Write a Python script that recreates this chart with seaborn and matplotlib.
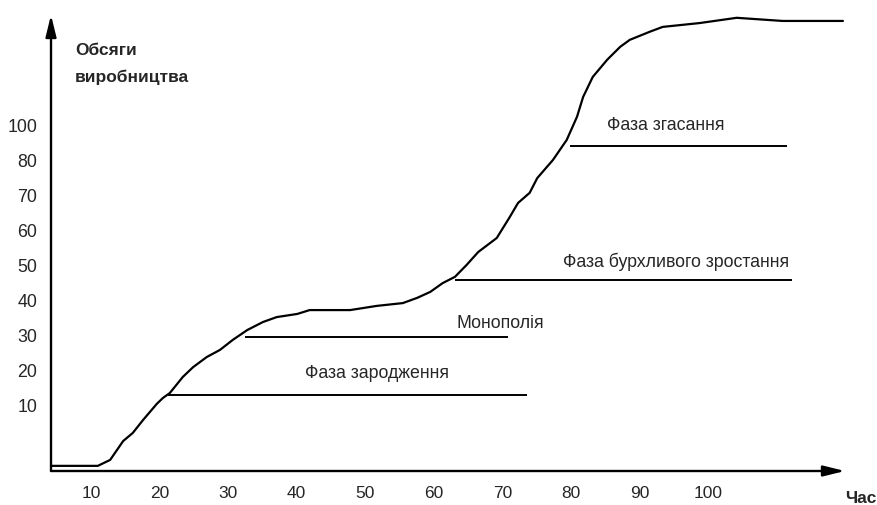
import matplotlib
matplotlib.use("Agg")
import matplotlib.pyplot as plt
import numpy as np
import pandas as pd
import seaborn as sns
from matplotlib import font_manager

# curve (time, output)
curve_x = [4.3, 11.0, 12.8, 14.7, 16.1, 17.6, 19.6, 20.5, 21.5, 23.4, 24.9, 26.9,
           28.8, 30.7, 32.8, 35.1, 37.1, 40.1, 41.9, 47.8, 51.7, 55.5, 57.6, 59.5,
           61.3, 63.1, 64.8, 66.5, 69.2, 71.1, 72.3, 74.0, 75.1, 77.4, 79.4, 80.9,
           81.8, 83.2, 85.3, 87.2, 88.6, 91.5, 93.4, 98.8, 104.2, 110.9, 119.7]
curve_y = [-7.1, -7.1, -5.4, 0.0, 2.3, 6.0, 10.6, 12.3, 13.7, 18.3, 21.1, 24.0,
           26.0, 28.9, 31.7, 34.0, 35.4, 36.3, 37.4, 37.4, 38.6, 39.4, 40.9, 42.6,
           45.1, 46.9, 50.3, 54.0, 58.0, 64.0, 68.0, 70.9, 75.1, 80.3, 86.0, 92.6,
           98.3, 104.0, 108.9, 112.6, 114.6, 116.9, 118.3, 119.4, 120.9, 120.0, 120.0]

phase_names = ["Фаза зародження", "Монополія", "Фаза бурхливого зростання", "Фаза згасання"]
phase_level = [13.1, 29.7, 46.0, 84.3]
phase_start = [21.2, 32.5, 63.1, 79.9]
phase_end = [73.6, 70.8, 112.3, 111.5]
label_x = [51.7, 69.7, 95.3, 93.9]
label_y = [18.0, 32.3, 49.7, 88.9]

x_ticks = [10, 20, 30, 40, 50, 60, 70, 80, 90, 100]
y_ticks = [10, 20, 30, 40, 50, 60, 70, 80, 90]
y_tick_labels = ["10", "20", "30", "40", "50", "60", "70", "80", "100"]

x_lim = (4.17, 120.0)
y_lim = (-8.57, 121.7)

sns.set_style("white")
installed = {f.name for f in font_manager.fontManager.ttflist}
family = "Liberation Sans" if "Liberation Sans" in installed else "DejaVu Sans"
plt.rcParams["font.family"] = [family, "DejaVu Sans"]
fs = 12.8

fig = plt.figure(figsize=(8.77, 5.05), dpi=100)
ax = fig.add_axes([51 / 877, 34 / 505, 794 / 877, 456 / 505])

df = pd.DataFrame({"t": curve_x, "v": curve_y})
sns.lineplot(data=df, x="t", y="v", color="black", lw=1.6, sort=False,
             estimator=None, ax=ax)

ax.hlines(phase_level, phase_start, phase_end, color="black", lw=1.4)
for name, lx, ly in zip(phase_names, label_x, label_y):
    ax.text(lx, ly, name, ha="center", va="baseline", fontsize=fs)

ax.set_xlim(*x_lim)
ax.set_ylim(*y_lim)
for side in ax.spines.values():
    side.set_visible(False)

arrow = dict(arrowstyle="-|>,head_length=1.3,head_width=0.32", color="black",
             lw=1.7, shrinkA=0, shrinkB=0, mutation_scale=10)
ax.annotate("", xy=(x_lim[1], y_lim[0]), xytext=(x_lim[0], y_lim[0]),
            arrowprops=arrow, annotation_clip=False)
ax.annotate("", xy=(x_lim[0], y_lim[1]), xytext=(x_lim[0], y_lim[0]),
            arrowprops=arrow, annotation_clip=False)

ax.set_xticks(x_ticks, [str(t) for t in x_ticks])
ax.set_yticks(y_ticks, y_tick_labels)
ax.tick_params(axis="x", length=0, pad=11, labelsize=12.5)
ax.tick_params(axis="y", length=0, pad=10, labelsize=fs)
ax.set_xlabel("")
ax.set_ylabel("")

ax.text(7.7, 110.3, "Обсяги", fontsize=12.5, fontweight="bold", va="baseline")
ax.text(7.7, 102.6, "виробництва", fontsize=12.5, fontweight="bold", va="baseline")
ax.text(120.0, -17.6, "Час", fontsize=12.5, fontweight="bold", va="baseline")

fig.savefig("out.png", dpi=100)
